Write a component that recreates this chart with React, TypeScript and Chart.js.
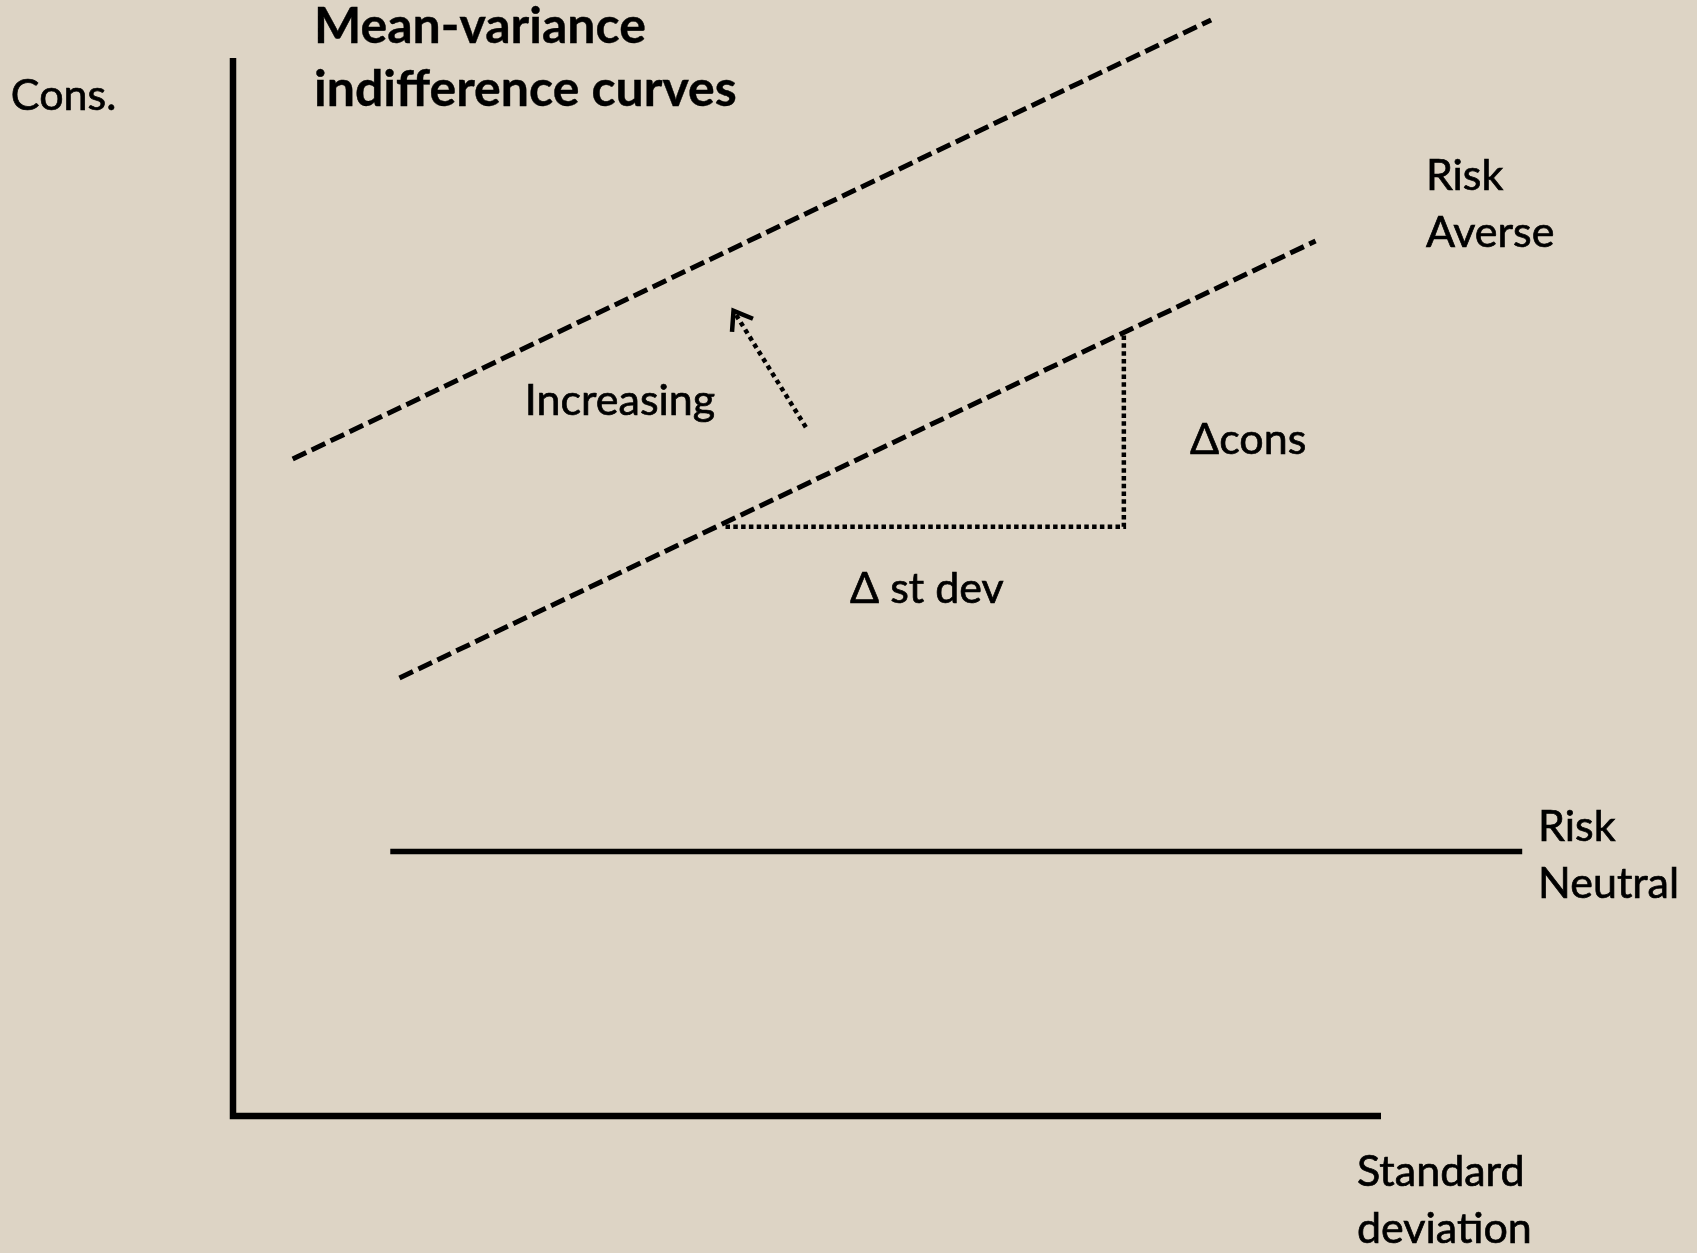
import React, { useEffect, useRef } from "react";
import { Chart, registerables } from "chart.js";

Chart.register(...registerables);

// ---- Data (x = standard deviation units, y = consumption units) ----
const axesPath = [
  { x: 0, y: 10 },
  { x: 0, y: 0 },
  { x: 10, y: 0 },
];
const higherCurve = [
  { x: 0.52, y: 6.21 },
  { x: 8.52, y: 10.36 },
];
const lowerCurve = [
  { x: 1.45, y: 4.14 },
  { x: 9.43, y: 8.27 },
];
const riskNeutralLine = [
  { x: 1.37, y: 2.5 },
  { x: 11.23, y: 2.5 },
];
const slopeTriangle = [
  { x: 4.29, y: 5.57 },
  { x: 7.76, y: 5.57 },
  { x: 7.76, y: 7.38 },
];
const increasingArrow = [
  { x: 4.99, y: 6.51 },
  { x: 4.36, y: 7.61 },
];

const labelTexts = [
  ["Cons."],
  ["Mean-variance", "indifference curves"],
  ["Risk", "Averse"],
  ["Increasing"],
  ["\u0394cons"],
  ["\u0394 st dev"],
  ["Risk", "Neutral"],
  ["Standard", "deviation"],
];
const labelAnchorX = [-1.935, 0.706, 10.391, 2.542, 8.336, 5.375, 11.368, 9.791];
const labelAnchorY = [9.509, 10.142, 8.751, 6.625, 6.257, 4.848, 2.599, -0.662];
const boldLabel = 1;

// scale window
const X_MIN = -2.0296;
const X_MAX = 12.7526;
const Y_MIN = -1.2949;
const Y_MAX = 10.5482;

const W = 1697;
const H = 1253;
const BG = "#ddd4c5";

const bgPlugin = {
  id: "bgFill",
  beforeDraw(chart: any) {
    const ctx = chart.ctx;
    ctx.save();
    ctx.fillStyle = BG;
    ctx.fillRect(0, 0, chart.width, chart.height);
    ctx.restore();
  },
};

const arrowPlugin = {
  id: "arrowHead",
  afterDatasetsDraw(chart: any) {
    const idx = chart.data.datasets.findIndex((d: any) => d.label === "Increasing");
    if (idx < 0) return;
    const pts = chart.getDatasetMeta(idx).data;
    const a = pts[pts.length - 2];
    const b = pts[pts.length - 1];
    const ang = Math.atan2(b.y - a.y, b.x - a.x);
    const len = 21;
    const spread = Math.PI / 5;
    const ctx = chart.ctx;
    ctx.save();
    ctx.strokeStyle = "#000";
    ctx.lineWidth = 4.5;
    ctx.lineCap = "butt";
    ctx.lineJoin = "miter";
    ctx.setLineDash([]);
    ctx.beginPath();
    ctx.moveTo(b.x - len * Math.cos(ang - spread), b.y - len * Math.sin(ang - spread));
    ctx.lineTo(b.x, b.y);
    ctx.lineTo(b.x - len * Math.cos(ang + spread), b.y - len * Math.sin(ang + spread));
    ctx.stroke();
    ctx.restore();
  },
};

const labelPlugin = {
  id: "textLabels",
  afterDraw(chart: any) {
    const ctx = chart.ctx;
    const xs = chart.scales.x;
    const ys = chart.scales.y;
    ctx.save();
    ctx.fillStyle = "#000";
    ctx.strokeStyle = "#000";
    ctx.textAlign = "left";
    ctx.textBaseline = "alphabetic";
    labelTexts.forEach((lines, i) => {
      const bold = i === boldLabel;
      ctx.font = bold ? "bold 50px Lato" : "43px Lato";
      ctx.lineWidth = bold ? 0.4 : 0.7;
      const lh = bold ? 63 : 57;
      const px = xs.getPixelForValue(labelAnchorX[i]);
      const py = ys.getPixelForValue(labelAnchorY[i]);
      lines.forEach((t, j) => {
        ctx.fillText(t, px, py + j * lh);
        ctx.strokeText(t, px, py + j * lh);
      });
    });
    ctx.restore();
  },
};

export default function App() {
  const ref = useRef<HTMLCanvasElement | null>(null);

  useEffect(() => {
    document.body.style.margin = "0";
    document.body.style.background = BG;
    const canvas = ref.current;
    if (!canvas) return;
    const line = (label: string, data: any[], width: number, dash: number[], cap = "butt") => ({
      label,
      data,
      showLine: true,
      borderColor: "#000",
      backgroundColor: "#000",
      borderWidth: width,
      borderDash: dash,
      borderCapStyle: cap,
      borderJoinStyle: "miter",
      pointRadius: 0,
      pointHoverRadius: 0,
      tension: 0,
      fill: false,
    });
    const chart = new Chart(canvas, {
      type: "scatter",
      data: {
        datasets: [
          line("Axes", axesPath, 6.5, []),
          line("Higher curve", higherCurve, 5, [15, 6]),
          line("Risk averse", lowerCurve, 5, [15, 6]),
          line("Risk neutral", riskNeutralLine, 5.5, []),
          line("Slope", slopeTriangle, 4.5, [4.5, 3.3]),
          line("Increasing", increasingArrow, 4.5, [4.5, 4]),
        ] as any,
      },
      options: {
        responsive: false,
        animation: false,
        events: [],
        layout: { padding: 0 },
        plugins: {
          legend: { display: false },
          title: { display: false },
          tooltip: { enabled: false },
        },
        scales: {
          x: { type: "linear", min: X_MIN, max: X_MAX, display: false },
          y: { type: "linear", min: Y_MIN, max: Y_MAX, display: false },
        },
      } as any,
      plugins: [bgPlugin, arrowPlugin, labelPlugin],
    });
    return () => chart.destroy();
  }, []);

  return (
    <div style={{ position: "fixed", left: 0, top: 0, width: W, height: H, background: BG }}>
      <canvas ref={ref} width={W} height={H} style={{ display: "block", width: W, height: H }} />
    </div>
  );
}
